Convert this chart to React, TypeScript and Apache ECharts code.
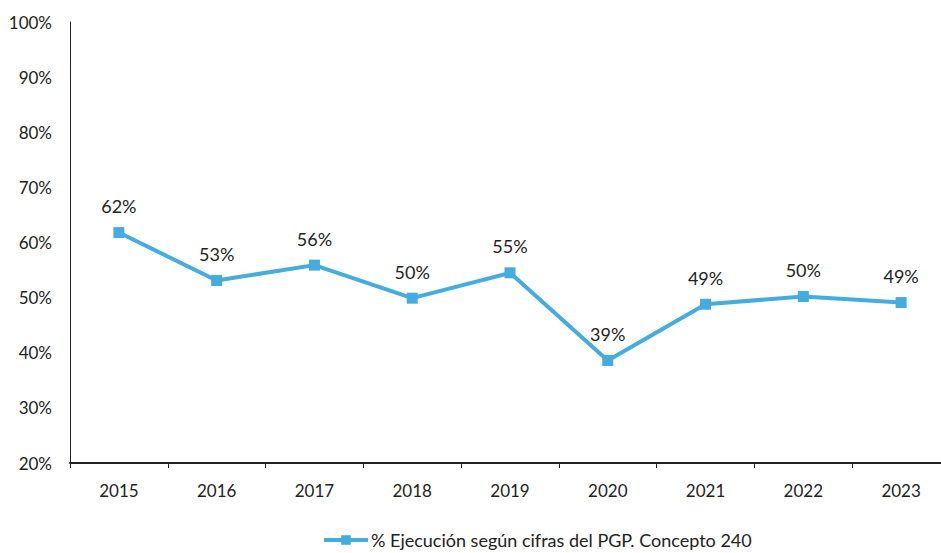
import React, { useEffect, useRef } from "react";
import * as echarts from "echarts";

const years = ["2015", "2016", "2017", "2018", "2019", "2020", "2021", "2022", "2023"];
const execution = [61.8, 53.1, 55.9, 49.9, 54.5, 38.6, 48.8, 50.2, 49.1];
const labels = ["62%", "53%", "56%", "50%", "55%", "39%", "49%", "50%", "49%"];
const seriesName = "% Ejecución según cifras del PGP. Concepto 240";

export default function App() {
  const ref = useRef<HTMLDivElement>(null);
  useEffect(() => {
    if (!ref.current) return;
    const chart = echarts.init(ref.current, null, { renderer: "svg" });
    const font = "Lato, 'Open Sans', sans-serif";
    chart.setOption({
      animation: false,
      textStyle: { fontFamily: font },
      grid: { left: 70, width: 880, top: 22, height: 441, outerBoundsMode: "none", containLabel: false },
      legend: {
        top: 526,
        left: 317,
        data: [{ name: seriesName }],
        itemWidth: 44,
        itemHeight: 12,
        itemGap: 4,
        lineStyle: { width: 4 },
        textStyle: { fontFamily: font, fontSize: 18, lineHeight: 18, color: "#222", padding: [0, 0, 0, -2] },
      },
      xAxis: {
        type: "category",
        data: years,
        boundaryGap: true,
        axisLine: { lineStyle: { color: "#222", width: 2 } },
        axisTick: { show: true, length: 5, lineStyle: { color: "#222", width: 1 } },
        axisLabel: { fontSize: 17, color: "#222", margin: 19, fontFamily: font },
      },
      yAxis: {
        type: "value",
        min: 20,
        max: 100,
        interval: 10,
        axisLine: { show: true, lineStyle: { color: "#222", width: 1 } },
        axisTick: { show: false },
        splitLine: { show: false },
        axisLabel: { formatter: "{value}%", fontSize: 17, color: "#222", margin: 18, fontFamily: font },
      },
      series: [
        {
          name: seriesName,
          type: "line",
          data: execution,
          symbol: "rect",
          symbolSize: 11,
          lineStyle: { color: "#44ACDE", width: 4 },
          itemStyle: { color: "#44ACDE" },
          label: {
            show: true,
            position: "top",
            distance: 12,
            fontSize: 18,
            color: "#222",
            fontFamily: font,
            formatter: (p: any) => labels[p.dataIndex],
          },
        },
      ],
    });
    return () => chart.dispose();
  }, []);
  return (
    <div
      ref={ref}
      style={{ position: "absolute", left: 0, top: 0, width: 941, height: 553, background: "#fff", overflow: "hidden" }}
    />
  );
}
